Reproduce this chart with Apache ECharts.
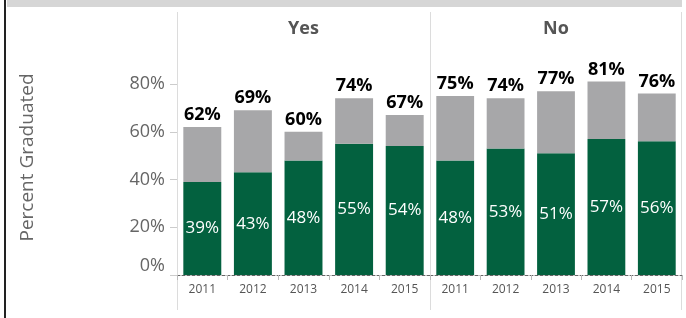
<!DOCTYPE html>
<html>
<head>
<meta charset="utf-8">
<script src="https://cdn.jsdelivr.net/npm/echarts@6/dist/echarts.min.js"></script>
<style>
  html, body { margin: 0; padding: 0; background: #fff; }
  #chart { width: 686px; height: 318px; }
</style>
</head>
<body>
<div id="chart"></div>
<script>
// panel headers and years
const panels = ['Yes', 'No'];
const years = ['2011', '2012', '2013', '2014', '2015'];

// total percent graduated (label above bar)
const yesTotal = [62, 69, 60, 74, 67];
const noTotal = [75, 74, 77, 81, 76];

// green part of each bar
const yesGreen = [39, 43, 48, 55, 54];
const noGreen = [48, 53, 51, 57, 56];

const yTicks = [0, 20, 40, 60, 80];

const GREEN = '#03613f';
const GREY = '#a7a7a9';
const FONT = '"Open Sans", "Noto Sans", sans-serif';

const chart = echarts.init(document.getElementById('chart'));

const grids = [
  { left: 177, width: 253, top: 84, bottom: 43 },
  { left: 430, width: 252, top: 84, bottom: 43 }
];

const makeX = (i) => ({
  type: 'category',
  gridIndex: i,
  data: years,
  axisLine: { show: true, lineStyle: { color: '#666', type: [3, 2], width: 1 } },
  axisTick: { show: true, length: 5, lineStyle: { color: '#bbb' } },
  axisLabel: { color: '#555', fontSize: 12, fontFamily: FONT, margin: 9 }
});

const makeY = (i) => ({
  type: 'value',
  gridIndex: i,
  min: yTicks[0],
  max: yTicks[yTicks.length - 1],
  interval: 20,
  splitLine: { show: false },
  axisLine: { show: false },
  axisTick: { show: i === 0, length: 7, lineStyle: { color: '#ccc' } },
  axisLabel: {
    show: i === 0,
    color: '#666',
    fontSize: 18,
    fontFamily: FONT,
    margin: 12,
    verticalAlignMinLabel: 'bottom',
    formatter: '{value}%'
  },
  name: i === 0 ? 'Percent Graduated' : '',
  nameLocation: 'middle',
  nameGap: 140,
  nameTextStyle: { color: '#666', fontSize: 19, fontFamily: FONT, padding: [0, 0, 0, 44] }
});

const greenSeries = (i, data) => ({
  type: 'bar',
  xAxisIndex: i,
  yAxisIndex: i,
  stack: 'p' + i,
  barWidth: '75%',
  data: data,
  itemStyle: { color: GREEN },
  label: {
    show: true,
    position: 'inside',
    color: '#fff',
    fontSize: 17,
    fontFamily: FONT,
    formatter: '{c}%'
  }
});

const greySeries = (i, totals, green) => ({
  type: 'bar',
  xAxisIndex: i,
  yAxisIndex: i,
  stack: 'p' + i,
  barWidth: '75%',
  clip: false,
  data: totals.map((t, k) => t - green[k]),
  itemStyle: { color: GREY },
  label: {
    show: true,
    position: 'top',
    distance: 3,
    color: '#000',
    fontSize: 18,
    fontWeight: 'bold',
    fontFamily: FONT,
    formatter: (p) => totals[p.dataIndex] + '%'
  }
});

const sepLine = (x) => ({
  type: 'line',
  shape: { x1: x, y1: 12, x2: x, y2: 310 },
  style: { stroke: '#dcdcdc', lineWidth: 1 },
  silent: true
});

const headerText = (x, text) => ({
  type: 'text',
  x: x,
  y: 29,
  style: {
    text: text,
    align: 'center',
    verticalAlign: 'middle',
    font: 'bold 18px ' + FONT,
    fill: '#555'
  }
});

chart.setOption({
  animation: false,
  grid: grids,
  xAxis: [makeX(0), makeX(1)],
  yAxis: [makeY(0), makeY(1)],
  series: [
    greenSeries(0, yesGreen),
    greySeries(0, yesTotal, yesGreen),
    greenSeries(1, noGreen),
    greySeries(1, noTotal, noGreen)
  ],
  graphic: [
    { type: 'rect', shape: { x: 7, y: 0, width: 675, height: 7 }, style: { fill: '#d6d6d6' }, silent: true },
    { type: 'line', shape: { x1: 5, y1: 0, x2: 5, y2: 318 }, style: { stroke: '#222', lineWidth: 2 }, silent: true },
    sepLine(177.5),
    sepLine(430.5),
    sepLine(681.5),
    headerText(303.5, panels[0]),
    headerText(556, panels[1])
  ]
});
</script>
</body>
</html>
